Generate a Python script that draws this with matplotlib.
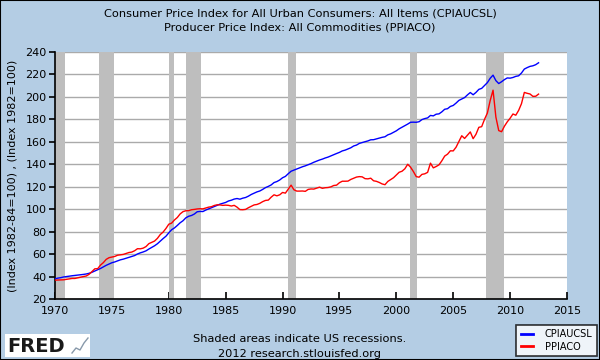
import numpy as np
import matplotlib
matplotlib.use("Agg")
import matplotlib.pyplot as plt
from matplotlib.patches import Rectangle

# quarterly values (start of quarter), 1970Q1 .. 2012Q3
cpi = [
    38.0, 38.6, 39.0, 39.6,  40.0, 40.3, 40.7, 41.0,  41.3, 41.6, 41.9, 42.3,
    42.9, 43.8, 44.9, 45.9,  47.2, 48.6, 50.0, 51.2,  52.3, 53.0, 54.0, 54.9,
    55.5, 56.3, 57.2, 57.8,  58.7, 60.1, 61.1, 61.9,  62.9, 64.5, 65.9, 67.4,
    69.2, 71.5, 73.8, 75.9,  78.9, 81.7, 83.3, 85.5,  87.9, 89.7, 92.3, 93.7,
    94.4, 95.7, 97.7, 98.0,  97.9, 99.2, 100.3, 101.3,  102.3, 103.4, 104.5, 105.3,
    106.0, 107.3, 108.0, 109.0,  109.5, 108.9, 109.8, 110.4,  111.6, 113.1, 114.3, 115.4,
    116.2, 117.6, 119.2, 120.3,  121.6, 123.7, 124.6, 126.0,  128.0, 129.2, 131.6, 133.8,
    134.8, 135.7, 136.7, 137.8,  138.6, 139.6, 140.6, 141.8,  142.8, 143.8, 144.6, 145.6,
    146.4, 147.5, 148.6, 149.6,  150.6, 151.9, 152.6, 153.6,  154.7, 156.3, 157.1, 158.6,
    159.4, 160.1, 160.8, 161.8,  161.9, 162.6, 163.2, 164.0,  164.5, 166.2, 167.1, 168.4,
    169.8, 171.6, 173.0, 174.3,  175.8, 177.4, 177.5, 177.4,  177.9, 179.8, 180.7, 181.3,
    183.5, 183.1, 184.6, 184.9,  186.7, 189.0, 189.5, 191.5,  192.4, 194.5, 196.9, 198.1,
    199.4, 201.8, 203.9, 201.9,  204.0, 206.7, 207.6, 210.2,  212.7, 216.6, 219.4, 214.5,
    211.9, 213.5, 215.4, 216.9,  216.7, 217.3, 218.3, 218.8,  221.3, 224.8, 226.1, 227.2,
    227.7, 228.7, 230.4,
]
ppi = [
    36.8, 36.9, 37.0, 37.1,  37.5, 38.0, 38.3, 38.3,  38.9, 39.4, 40.0, 40.5,
    42.0, 44.4, 46.9, 47.0,  50.2, 52.4, 55.3, 56.8,  57.4, 57.9, 59.0, 59.4,
    59.7, 60.6, 61.4, 61.8,  63.0, 64.8, 64.7, 65.3,  66.7, 69.3, 70.4, 71.6,
    74.0, 77.4, 79.6, 82.8,  86.6, 87.6, 90.4, 92.6,  95.8, 97.8, 98.6, 98.7,
    99.5, 99.8, 100.2, 100.4,  100.3, 101.0, 101.8, 102.2,  103.3, 103.9, 103.8, 103.4,
    103.6, 103.4, 102.8, 103.4,  101.8, 99.6, 99.5, 99.8,  101.3, 102.6, 103.8, 104.2,
    105.2, 106.7, 107.8, 108.1,  110.7, 112.8, 111.9, 112.8,  114.9, 114.3, 117.9, 121.4,
    117.3, 116.1, 116.1, 116.2,  115.9, 117.6, 118.0, 117.9,  118.7, 119.6, 118.6, 119.1,
    119.3, 119.9, 121.1, 121.4,  123.6, 124.9, 124.9, 125.0,  126.5, 127.5, 128.6, 129.0,
    128.8, 127.2, 127.0, 127.6,  125.3, 124.8, 123.8, 122.5,  121.8, 124.7, 126.4, 128.0,
    130.5, 132.9, 133.8, 136.0,  140.0, 137.4, 133.5, 129.0,  128.5, 131.0, 131.5, 132.8,
    141.0, 136.8, 138.0, 139.5,  143.1, 147.3, 149.0, 152.0,  151.9, 155.2, 160.2, 165.4,
    163.0, 165.9, 168.8, 162.8,  166.7, 172.9, 173.5, 180.0,  185.6, 196.8, 206.0, 182.0,
    170.0, 169.0, 173.9, 177.8,  181.0, 184.8, 183.7, 188.0,  194.0, 204.0, 203.2, 202.6,
    200.5, 200.6, 202.5,
]
recessions = [(1969.92, 1970.87), (1973.83, 1975.17), (1980.0, 1980.5),
              (1981.5, 1982.83), (1990.5, 1991.17), (2001.17, 2001.83),
              (2007.92, 2009.42)]

dates = 1970 + 0.25 * np.arange(len(cpi))

BG = "#B4CDE4"
fig = plt.figure(figsize=(6, 3.6), dpi=100, facecolor=BG)
ax = fig.add_axes([55 / 600, 1 - 299 / 360, 512 / 600, 247 / 360])
ax.set_facecolor("white")

for start, end in recessions:
    ax.axvspan(start, end, color="#BEBEBE", lw=0, zorder=1)

ax.set_yticks(range(20, 241, 20))
ax.yaxis.grid(True, color="#AAAAAA", lw=1.0, zorder=0.5)
ax.set_axisbelow(True)

ax.plot(dates, cpi, color="#0000FF", lw=1.0, zorder=3, label="CPIAUCSL")
ax.plot(dates, ppi, color="#FF0000", lw=1.0, zorder=3, label="PPIACO")

ax.set_xlim(1970, 2015)
ax.set_ylim(20, 240)
ax.set_xticks(range(1970, 2016, 5))
for side in ["top", "right"]:
    ax.spines[side].set_visible(False)
for side in ["left", "bottom"]:
    ax.spines[side].set_linewidth(1.2)
ax.tick_params(axis="x", direction="in", length=5, width=1.2, labelsize=8, pad=5)
ax.tick_params(axis="y", direction="out", length=4, width=1.2, labelsize=8, pad=2)
ax.set_ylabel("(Index 1982-84=100) , (Index 1982=100)", fontsize=8, labelpad=6)

fig.text(0.5, 1 - 13 / 360, "Consumer Price Index for All Urban Consumers: All Items (CPIAUCSL)",
         ha="center", va="center", fontsize=8.2)
fig.text(0.5, 1 - 28 / 360, "Producer Price Index: All Commodities (PPIACO)",
         ha="center", va="center", fontsize=8.2)
fig.text(0.5, 1 - 339 / 360, "Shaded areas indicate US recessions.",
         ha="center", va="center", fontsize=8.2)
fig.text(0.5, 1 - 354 / 360, "2012 research.stlouisfed.org",
         ha="center", va="center", fontsize=8.2)

# FRED logo
fig.patches.append(Rectangle((5 / 600, 1 - 357 / 360), 85 / 600, 23 / 360,
                             transform=fig.transFigure, facecolor="white", lw=0))
fig.text(7 / 600, 1 - 346 / 360, "FRED", ha="left", va="center", fontsize=14,
         fontweight="bold", color="#1a1a1a")
icon_x = [72, 76, 80, 84, 88]
icon_y = [353, 348, 350, 343, 338]
fig.add_artist(plt.Line2D([x / 600 for x in icon_x], [1 - y / 360 for y in icon_y],
                          transform=fig.transFigure, color="#8899AA", lw=1))

leg = fig.legend(loc="lower right", bbox_to_anchor=(597 / 600, 4 / 360), fontsize=7,
                 frameon=True, fancybox=False, edgecolor="black", handlelength=1.3,
                 borderpad=0.45, labelspacing=0.25, borderaxespad=0, handletextpad=1.2)
leg.get_frame().set_linewidth(1.2)
for line in leg.get_lines():
    line.set_linewidth(2)

fig.patches.append(Rectangle((0, 0), 1, 1, transform=fig.transFigure, fill=False,
                             edgecolor="black", lw=1.5))

fig.savefig("out.png", dpi=100, facecolor=BG)
